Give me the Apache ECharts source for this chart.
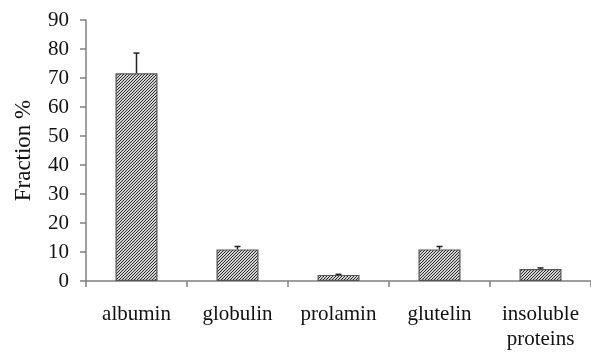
<!DOCTYPE html>
<html><head><meta charset="utf-8">
<script src="https://cdn.jsdelivr.net/npm/echarts@6/dist/echarts.min.js"></script>
<style>html,body{margin:0;padding:0;background:#fff}#c{width:591px;height:352px}</style>
</head><body><div id="c"></div>
<script>
const categories = ['albumin', 'globulin', 'prolamin', 'glutelin', 'insoluble\nproteins'];
const values = [71.6, 10.9, 2.1, 10.9, 4.1];
const errors = [7.0, 1.0, 0.2, 1.0, 0.4];
const yTicks = [0, 10, 20, 30, 40, 50, 60, 70, 80, 90];

// hatch pattern
const tile = document.createElement('canvas');
tile.width = 3; tile.height = 3;
const tc = tile.getContext('2d');
tc.fillStyle = '#d4d4d4'; tc.fillRect(0, 0, 3, 3);
tc.fillStyle = '#2a2a2a';
for (let x = 0; x < 3; x++) { const y = 2 - x; tc.fillRect(x, y, 1, 1); }

const font = 'Liberation Serif, Times New Roman, serif';
const chart = echarts.init(document.getElementById('c'), null, {renderer: 'canvas'});
chart.setOption({
  animation: false,
  backgroundColor: '#fff',
  grid: {left: 86, top: 20, width: 515, height: 265.5, containLabel: false},
  xAxis: {
    type: 'category', data: categories,
    axisLine: {lineStyle: {color: '#808080', width: 1.5}},
    axisTick: {show: true, length: 6, alignWithLabel: false, lineStyle: {color: '#808080', width: 1.5}},
    axisLabel: {color: '#111', fontFamily: font, fontSize: 21, margin: 21, lineHeight: 25, interval: 0}
  },
  yAxis: {
    type: 'value', min: 0, max: 90, interval: 10,
    name: 'Fraction %', nameLocation: 'middle', nameGap: 51, nameRotate: 90,
    nameTextStyle: {color: '#111', fontFamily: font, fontSize: 23},
    splitLine: {show: false},
    axisLine: {show: true, lineStyle: {color: '#808080', width: 1.5}},
    axisTick: {show: true, length: 6, lineStyle: {color: '#808080', width: 1.5}},
    axisLabel: {color: '#111', fontFamily: font, fontSize: 21, margin: 17,
      formatter: v => yTicks.includes(v) ? String(v) : ''}
  },
  series: [
    {
      type: 'bar', data: values, barWidth: 42,
      itemStyle: {color: {image: tile, repeat: 'repeat'}, borderColor: '#555', borderWidth: 1.2}
    },
    {
      type: 'custom',
      data: values.map((v, i) => [i, v, v + errors[i]]),
      renderItem: function (params, api) {
        const x = api.value(0);
        const p0 = api.coord([x, api.value(1)]);
        const p1 = api.coord([x, api.value(2)]);
        const style = {stroke: '#222', lineWidth: 1.5};
        return {type: 'group', children: [
          {type: 'line', shape: {x1: p0[0], y1: p0[1], x2: p1[0], y2: p1[1]}, style: style},
          {type: 'line', shape: {x1: p1[0] - 3, y1: p1[1], x2: p1[0] + 3, y2: p1[1]}, style: style}
        ]};
      },
      z: 5
    }
  ]
});
</script></body></html>
